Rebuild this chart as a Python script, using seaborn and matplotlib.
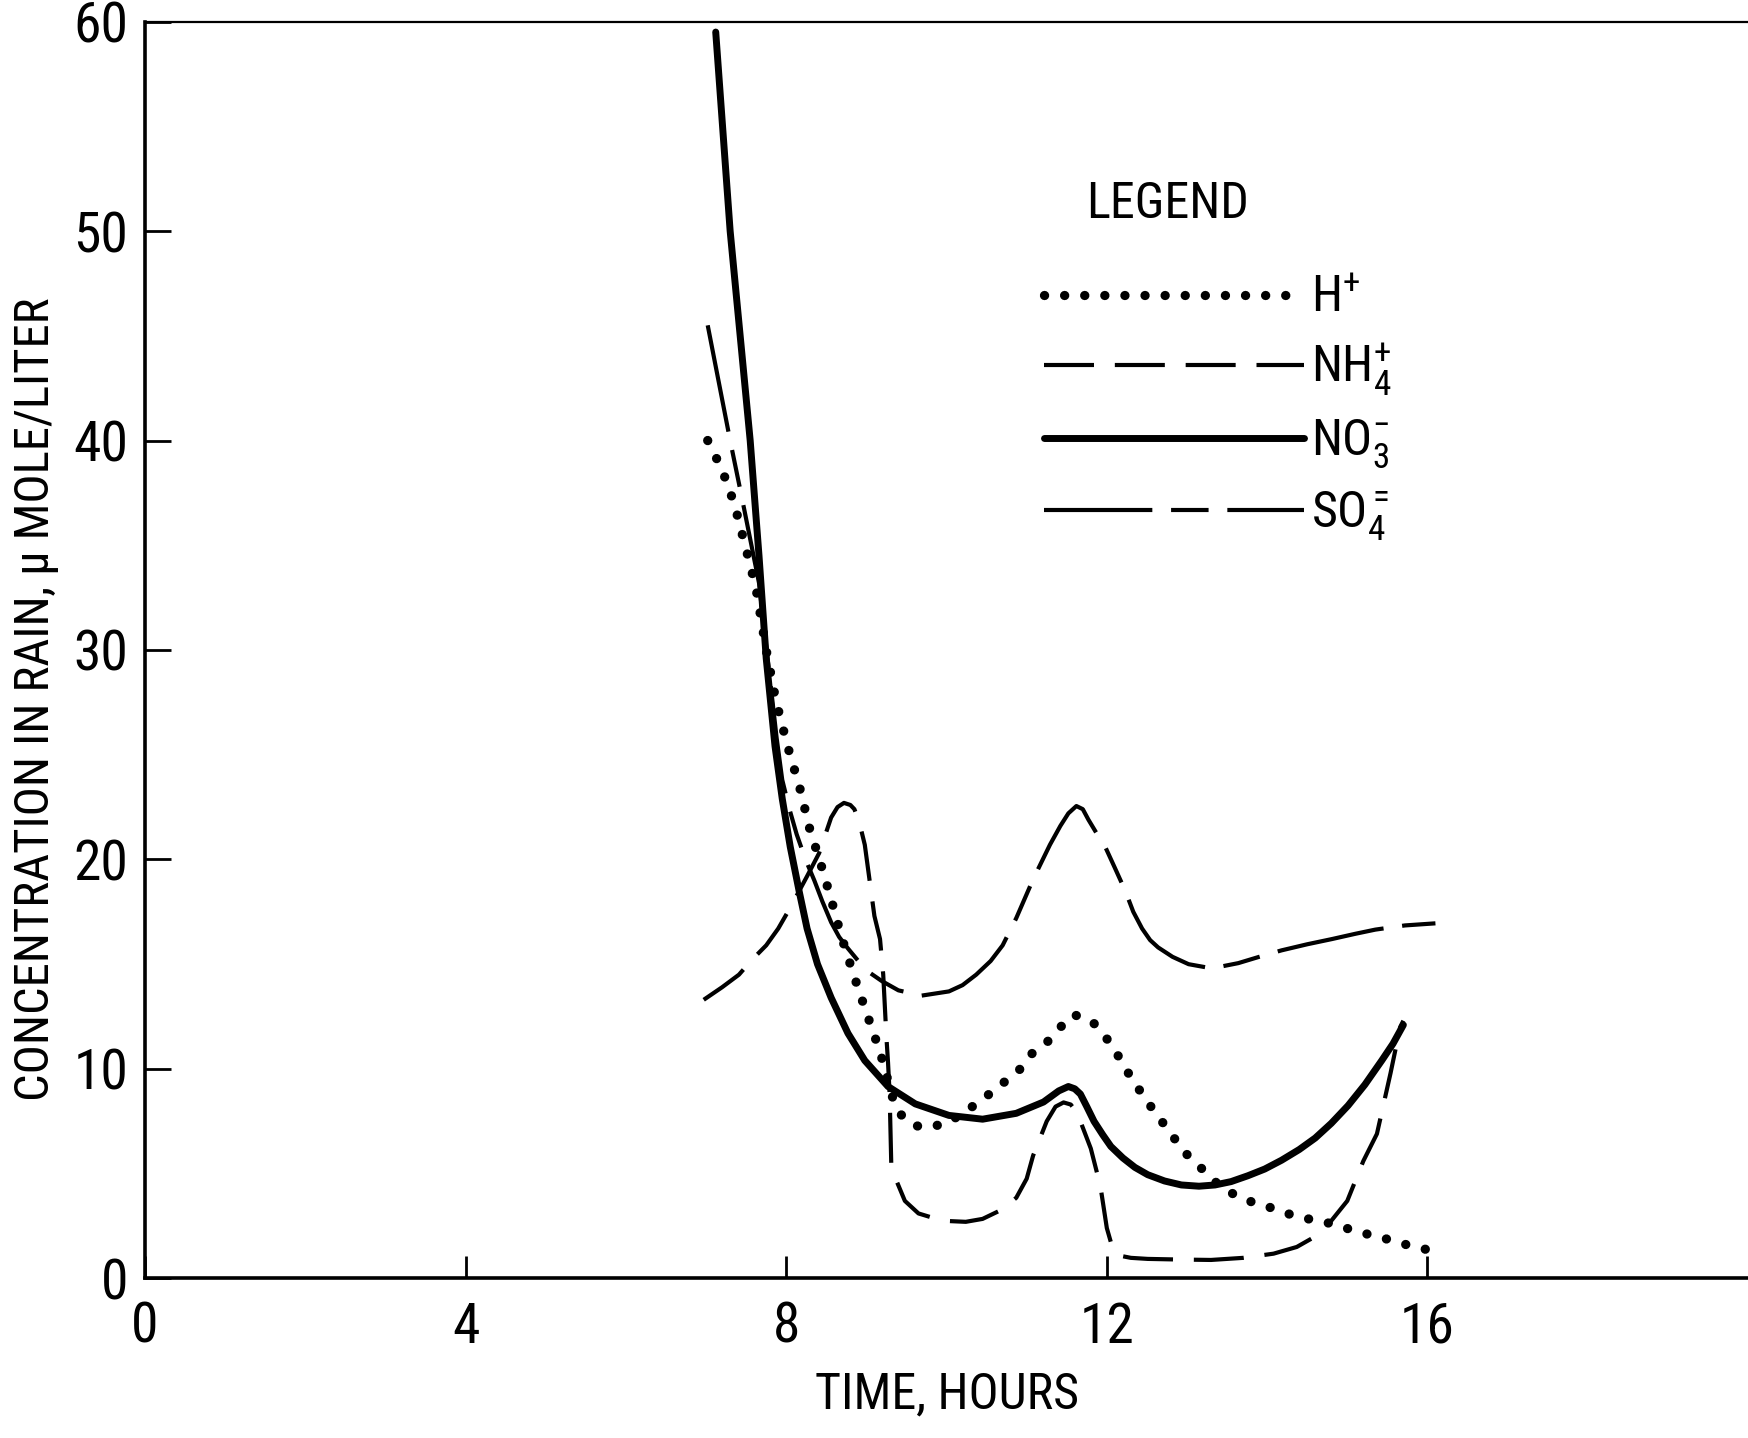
import matplotlib
matplotlib.use("Agg")
import matplotlib.pyplot as plt
from matplotlib import font_manager
import seaborn as sns

# Data (time in hours, concentration in umol/L)
h_time = [7.02, 7.20, 7.35, 7.50, 7.62, 7.75, 7.87, 8.01, 8.17, 8.29, 8.43, 8.56,
          8.69, 8.84, 8.99, 9.10, 9.21, 9.32, 9.45, 9.60, 9.75, 10.00, 10.25,
          10.50, 10.73, 10.92, 11.08, 11.26, 11.41, 11.58, 11.81, 11.97, 12.10,
          12.22, 12.35, 12.48, 12.62, 12.77, 12.91, 13.05, 13.24, 13.41, 13.61,
          13.84, 14.07, 14.29, 14.50, 14.73, 14.94, 15.16, 15.37, 15.60, 15.83, 16.03]
h_conc = [40.0, 38.6, 37.0, 34.8, 33.0, 30.0, 27.6, 25.5, 23.4, 21.5, 19.8, 18.1,
          16.3, 14.5, 12.8, 11.6, 10.3, 8.7, 7.7, 7.3, 7.2, 7.4, 8.0,
          8.7, 9.4, 10.0, 10.8, 11.3, 11.95, 12.6, 12.3, 11.6, 10.9,
          10.1, 9.3, 8.6, 7.8, 7.1, 6.3, 5.7, 5.05, 4.4, 3.96,
          3.6, 3.35, 3.05, 2.85, 2.68, 2.45, 2.2, 2.0, 1.77, 1.5, 1.35]

nh4_time = [6.97, 7.20, 7.41, 7.57, 7.75, 7.90, 8.05, 8.26, 8.41, 8.56, 8.64, 8.72,
            8.80, 8.85, 8.91, 8.98, 9.04, 9.10, 9.17, 9.21, 9.25, 9.27, 9.29, 9.31,
            9.36, 9.48, 9.65, 9.95, 10.24, 10.45, 10.70, 10.87, 11.00, 11.08,
            11.25, 11.36, 11.46, 11.55, 11.63, 11.72, 11.80, 11.92, 12.00, 12.06,
            12.14, 12.30, 12.51, 12.90, 13.30, 13.70, 14.08, 14.37, 14.60,
            14.79, 15.00, 15.20, 15.37, 15.54, 15.66, 15.70]
nh4_conc = [13.3, 13.9, 14.5, 15.2, 15.9, 16.7, 17.7, 19.2, 20.3, 22.0, 22.5, 22.7,
            22.6, 22.4, 21.8, 20.7, 19.0, 17.3, 16.2, 14.5, 11.5, 10.3, 8.8, 5.5,
            4.8, 3.7, 3.1, 2.75, 2.7, 2.84, 3.3, 3.85, 4.76, 5.86,
            7.5, 8.2, 8.4, 8.3, 7.9, 7.0, 6.2, 4.4, 2.4, 1.6,
            1.1, 0.98, 0.93, 0.9, 0.88, 0.98, 1.18, 1.5, 2.0,
            2.7, 3.7, 5.6, 6.9, 9.8, 12.0, 12.3]

no3_time = [7.12, 7.30, 7.55, 7.66, 7.75, 7.86, 7.95, 8.05, 8.16, 8.26, 8.39, 8.56,
            8.77, 8.98, 9.27, 9.61, 10.03, 10.45, 10.87, 11.21, 11.40, 11.52,
            11.60, 11.67, 11.75, 11.84, 11.95, 12.05, 12.20, 12.35, 12.51, 12.72,
            12.93, 13.15, 13.35, 13.55, 13.76, 13.97, 14.18, 14.40, 14.60, 14.80,
            15.01, 15.22, 15.43, 15.57, 15.70]
no3_conc = [59.5, 50.0, 40.0, 34.5, 29.6, 25.4, 22.9, 20.6, 18.5, 16.7, 15.0, 13.4,
            11.7, 10.4, 9.16, 8.33, 7.78, 7.6, 7.88, 8.42, 8.95, 9.16,
            9.05, 8.8, 8.2, 7.5, 6.85, 6.3, 5.75, 5.3, 4.95, 4.65,
            4.46, 4.4, 4.46, 4.62, 4.9, 5.22, 5.64, 6.15, 6.7, 7.4,
            8.25, 9.25, 10.4, 11.2, 12.1]

so4_time = [7.02, 7.30, 7.45, 7.66, 7.80, 7.88, 7.95, 8.04, 8.13, 8.24, 8.35, 8.45,
            8.56, 8.66, 8.77, 8.90, 9.02, 9.19, 9.40, 9.69, 10.03, 10.20, 10.37,
            10.55, 10.70, 10.87, 11.08, 11.29, 11.42, 11.52, 11.62, 11.70, 11.77,
            11.88, 11.98, 12.10, 12.23, 12.33, 12.44, 12.54, 12.64, 12.82, 13.02,
            13.31, 13.64, 13.90, 14.18, 14.50, 14.81, 15.10, 15.35, 15.72, 16.10]
so4_conc = [45.5, 40.0, 37.2, 33.2, 28.5, 25.8, 23.8, 22.4, 21.2, 20.0, 19.0, 18.0,
            17.0, 16.3, 15.75, 15.15, 14.65, 14.2, 13.75, 13.5, 13.7, 14.0, 14.5,
            15.15, 15.9, 17.2, 19.05, 20.7, 21.6, 22.2, 22.55, 22.4, 21.9,
            21.2, 20.6, 19.6, 18.5, 17.5, 16.7, 16.15, 15.8, 15.35, 15.0,
            14.8, 15.05, 15.35, 15.66, 15.95, 16.2, 16.45, 16.65, 16.85, 16.95]

x_ticks = [0, 4, 8, 12, 16]
y_ticks = [0, 10, 20, 30, 40, 50, 60]


def pick_narrow_font():
    # the scan uses a condensed sans; take a narrow face if one is installed
    wanted = ["Liberation Sans Narrow", "Roboto Condensed", "DejaVu Sans",
              "Noto Sans", "Open Sans", "Roboto"]
    found = {}
    for f in font_manager.fontManager.ttflist:
        narrow = ("Narrow" in f.name or "Condensed" in f.name
                  or str(f.stretch) in ("condensed", "semi-condensed", "extra-condensed"))
        if narrow and f.style == "normal" and f.weight in (400, "normal", "regular"):
            found.setdefault(f.name, f.stretch)
    for name in wanted:
        if name in found:
            return name, found[name]
    if found:
        name = sorted(found)[0]
        return name, found[name]
    return "DejaVu Sans", "normal"


sns.set_style("ticks")
font_name, font_stretch = pick_narrow_font()
plt.rcParams["font.family"] = [font_name, "DejaVu Sans"]
plt.rcParams["font.stretch"] = font_stretch
plt.rcParams["mathtext.fontset"] = "custom"
plt.rcParams["mathtext.rm"] = font_name
plt.rcParams["mathtext.it"] = font_name
plt.rcParams["mathtext.default"] = "rm"
for key in ["text.color", "axes.labelcolor", "xtick.color", "ytick.color"]:
    plt.rcParams[key] = "black"

fig = plt.figure(figsize=(17.48, 14.38), dpi=100)
ax = fig.add_axes([0.083, 0.111, 0.917, 0.874])

sns.lineplot(x=h_time, y=h_conc, ax=ax, sort=False, color="black", lw=6.7,
             linestyle=(0, (0.01, 2.15)), dash_capstyle="round", label=r"H$^{+}$")
sns.lineplot(x=nh4_time, y=nh4_conc, ax=ax, sort=False, color="black", lw=3,
             linestyle=(0, (12, 5)), label=r"NH$_{4}^{+}$")
sns.lineplot(x=no3_time, y=no3_conc, ax=ax, sort=False, color="black", lw=5,
             label=r"NO$_{3}^{-}$")
sns.lineplot(x=so4_time, y=so4_conc, ax=ax, sort=False, color="black", lw=3,
             linestyle=(0, (26, 4.5, 9, 4.5)), label=r"SO$_{4}^{=}$")

ax.set_xlim(0, 20)
ax.set_ylim(0, 60)
ax.set_xticks(x_ticks)
ax.set_yticks(y_ticks)
ax.set_xlabel("TIME, HOURS", fontsize=36, labelpad=12)
ax.set_ylabel("CONCENTRATION IN RAIN, \u03bc MOLE/LITER", fontsize=35)
ax.yaxis.set_label_coords(-0.054, 0.461)
ax.tick_params(axis="both", direction="in", labelsize=40, width=2, color="black")
ax.tick_params(axis="y", length=19, pad=12)
ax.tick_params(axis="x", length=16, pad=16)

for side in ["left", "bottom"]:
    ax.spines[side].set_linewidth(2.6)
    ax.spines[side].set_color("black")
ax.spines["top"].set_linewidth(1.6)
ax.spines["top"].set_color("black")
ax.spines["right"].set_visible(False)

ax.text(0.638, 0.855, "LEGEND", transform=ax.transAxes, fontsize=36,
        ha="center", va="center")
ax.legend(loc="upper left", bbox_to_anchor=(0.545, 0.819), frameon=False,
          fontsize=36, handlelength=5.2, handletextpad=0.15, labelspacing=0.38,
          borderpad=0)

fig.savefig("out.png", dpi=100, facecolor="white")
